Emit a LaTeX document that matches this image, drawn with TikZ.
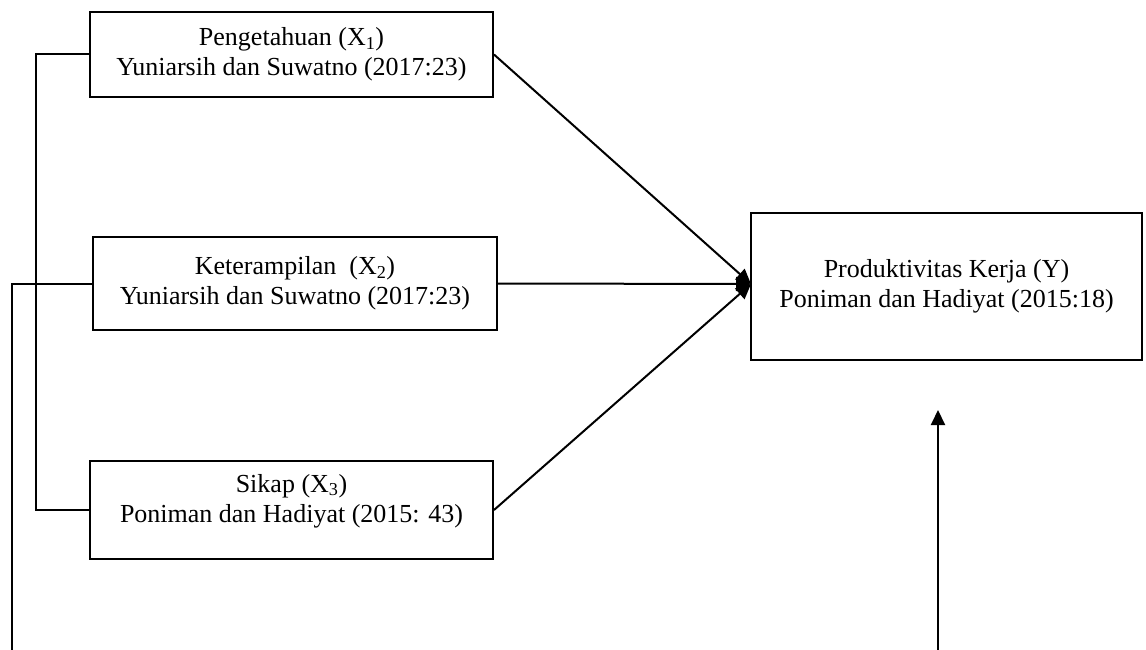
\documentclass[tikz,border=0pt]{standalone}
\usepackage{fontspec}
\setmainfont{Liberation Serif}
\usetikzlibrary{arrows.meta}
\begin{document}
\begin{tikzpicture}[x=1pt,y=-1pt,
  box/.style={draw,line width=2pt,align=center,inner sep=0pt,
    font=\fontsize{26}{30}\selectfont},
  conn/.style={line width=2pt},
  arr/.style={line width=2pt,-{Triangle[length=15pt,width=14pt]}}]
\useasboundingbox (0,0) rectangle (1146,650);
\node[box,minimum width=403pt,minimum height=85pt] (b1) at (291.5,54.5)
  {Pengetahuan (X\textsubscript{1})\\ Yuniarsih dan Suwatno (2017:23)};
\node[box,minimum width=404pt,minimum height=93pt] (b2) at (295,283.5)
  {Keterampilan~ (X\textsubscript{2})\\ Yuniarsih dan Suwatno (2017:23)};
\node[box,minimum width=403pt,minimum height=98pt] (b3) at (291.5,510)
  {Sikap (X\textsubscript{3})\\ Poniman dan Hadiyat (2015: 43)\\[-6pt]};
\node[box,minimum width=391pt,minimum height=147pt] (by) at (946.5,286.5)
  {Produktivitas Kerja (Y)\\ Poniman dan Hadiyat (2015:18)};
\coordinate (yin) at (751,284);
\coordinate (lb) at (12,650);
\coordinate (ub) at (938,650);
\coordinate (ut) at (938,410);
\draw[conn] (b1.west) -- ++(-53,0) |- (b3.west);
\draw[conn] (b2.west) -- (b2.west -| lb) -- (lb);
\draw[arr] (b1.east) -- (yin);
\draw[arr] (b2.east) -- (yin);
\draw[arr] (b3.east) -- (yin);
\draw[arr] (ub) -- (ut);
\end{tikzpicture}
\end{document}
